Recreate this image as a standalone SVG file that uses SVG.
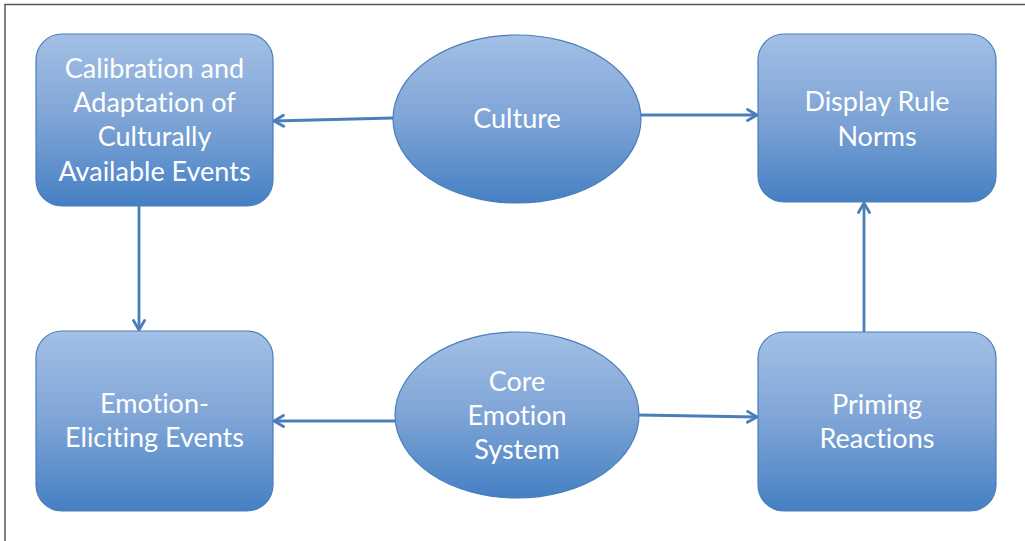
<svg xmlns="http://www.w3.org/2000/svg" width="1025" height="541" viewBox="0 0 1025 541">
<defs>
<linearGradient id="g" x1="0" y1="0" x2="0" y2="1">
<stop offset="0" stop-color="#a3c0e5"/>
<stop offset="0.5" stop-color="#7ea4d6"/>
<stop offset="1" stop-color="#4580c4"/>
</linearGradient>
<marker id="ah" viewBox="0 0 14 14" refX="12.5" refY="7" markerWidth="14" markerHeight="14" markerUnits="userSpaceOnUse" orient="auto">
<path d="M3,1.5 L12.5,7 L3,12.5" fill="none" stroke="#4a7ebb" stroke-width="2.8" stroke-linecap="round" stroke-linejoin="round"/>
</marker>
<style>
.n{fill:url(#g);stroke:#4a7ebb;stroke-width:1.2}
.t{font-family:Lato,"Open Sans",sans-serif;font-size:27px;fill:#fff;text-anchor:middle;font-variant-ligatures:none}
.c{stroke:#4a7ebb;stroke-width:2.8;fill:none;marker-end:url(#ah)}
</style>
</defs>
<rect width="1025" height="541" fill="#fff"/>
<path d="M5,545 L5,4.5 L1030,4.5" fill="none" stroke="#555" stroke-width="1.5"/>
<g id="connectors">
<line class="c" x1="393" y1="118" x2="274" y2="121"/>
<line class="c" x1="641" y1="115" x2="757" y2="115"/>
<line class="c" x1="139" y1="206" x2="139" y2="330"/>
<line class="c" x1="395" y1="421" x2="274" y2="421"/>
<line class="c" x1="639" y1="415" x2="757" y2="417"/>
<line class="c" x1="864" y1="332" x2="864" y2="203"/>
</g>
<g id="calibration">
<rect class="n" x="36" y="34" width="237" height="172" rx="26"/>
<text class="t" x="154.5"><tspan x="154.5" y="78">Calibration and</tspan><tspan x="154.5" y="112">Adaptation of</tspan><tspan x="154.5" y="146">Culturally</tspan><tspan x="154.5" y="181">Available Events</tspan></text>
</g>
<g id="culture">
<ellipse class="n" cx="517" cy="119" rx="124" ry="84"/>
<text class="t" x="517" y="128">Culture</text>
</g>
<g id="display">
<rect class="n" x="758" y="34" width="238" height="168" rx="26"/>
<text class="t"><tspan x="877" y="111">Display Rule</tspan><tspan x="877" y="146">Norms</tspan></text>
</g>
<g id="eliciting">
<rect class="n" x="36" y="331" width="237" height="180" rx="26"/>
<text class="t"><tspan x="154.5" y="413">Emotion-</tspan><tspan x="154.5" y="447">Eliciting Events</tspan></text>
</g>
<g id="core">
<ellipse class="n" cx="517" cy="415" rx="122" ry="83"/>
<text class="t"><tspan x="517" y="391">Core</tspan><tspan x="517" y="425">Emotion</tspan><tspan x="517" y="459">System</tspan></text>
</g>
<g id="priming">
<rect class="n" x="758" y="332" width="238" height="179" rx="26"/>
<text class="t"><tspan x="877" y="414">Priming</tspan><tspan x="877" y="448">Reactions</tspan></text>
</g>
</svg>
